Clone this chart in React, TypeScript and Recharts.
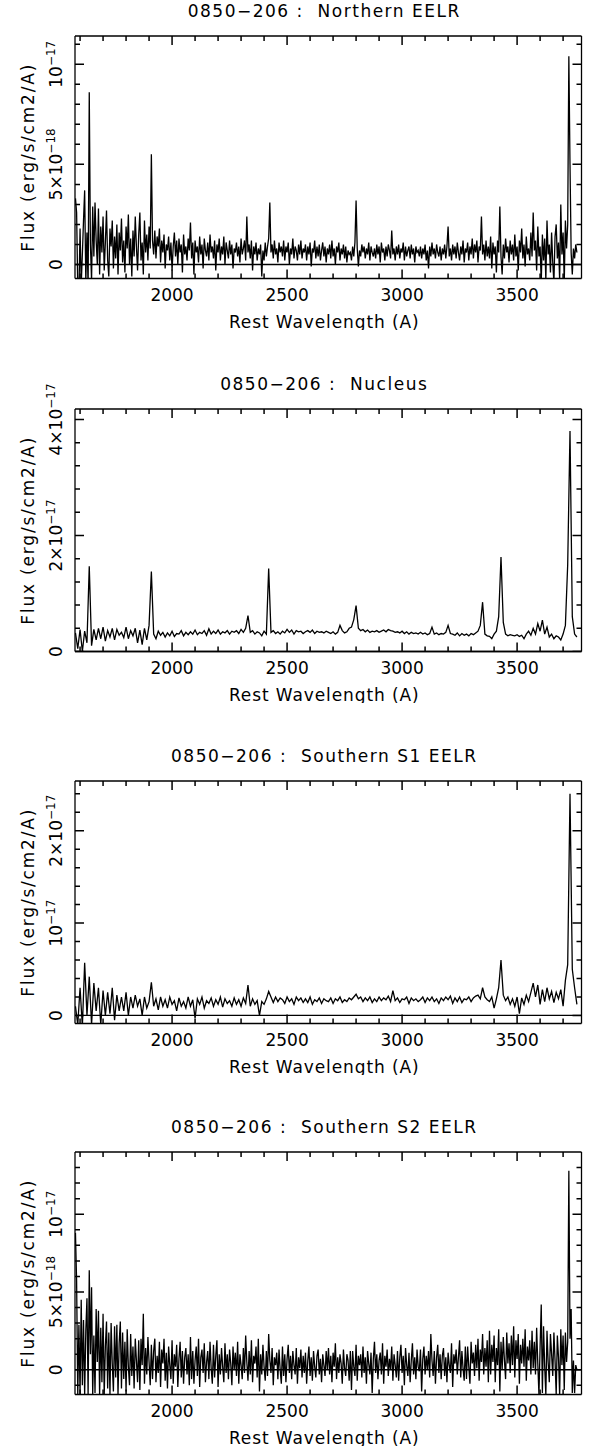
import { LineChart, Line, XAxis, YAxis, ReferenceLine } from "recharts";

// spectra sampled on regular grids starting at 1580 A
const WAVE_START = 1580;
const FINE_STEP = 5;
const COARSE_STEP = 10;

// Northern EELR, 5 A grid, flux in 1e-18 erg/s/cm2/A
const northernFlux = [
  3.3, 2.6, -1.2, -1.5, 1.8, -1.0, 0.5, 2.2, 3.7, -0.9, 1.6, -1.2, 8.6, 1.0, -0.8, 2.9, 0.4, 3.1, 1.2, 0.0,
  2.8, -0.5, 1.9, 0.6, 2.4, -0.3, 1.1, 2.7, 0.2, -0.6, 1.8, 0.9, 2.2, -0.2, 1.4, 0.3, 2.0, -0.5, 1.6, 0.7,
  2.3, 0.1, 1.2, -0.4, 1.9, 0.8, 2.5, 0.0, 1.3, -0.6, 1.7, 0.4, 2.4, 0.9, -0.3, 1.5, 2.6, 0.2, 1.1, -0.5,
  2.2, 0.6, 1.5, 0.2, 1.9, 0.8, 5.5, 1.2, 0.5, 1.7, 0.3, 1.4, 0.9, 1.8, 0.1, 1.2, 0.6, 1.5, -0.2, 1.0,
  0.7, 1.4, 0.2, 1.1, -0.3, 0.9, 1.6, 0.4, 1.2, 0.0, 1.3, 0.6, 1.0, -0.4, 1.5, 0.5, 0.9, 0.2, 1.3, 0.7,
  2.1, 0.3, 1.1, -0.5, 1.2, 0.6, 0.9, 0.1, 1.4, 0.5, 1.0, -0.2, 1.3, 0.7, 0.4, 1.1, 0.2, 1.5, 0.6, 0.9,
  0.3, 1.2, -0.3, 1.0, 0.6, 1.3, 0.2, 0.9, 0.5, 1.4, 0.0, 1.1, 0.7, 0.3, 1.2, 0.5, 1.0, -0.2, 0.8, 0.6,
  1.1, 0.4, 0.9, 0.1, 1.3, 0.5, 0.8, 1.2, 0.2, 2.4, 0.6, 1.0, 0.3, 1.2, -0.3, 0.9, 0.5, 1.1, 0.2, 0.8,
  0.5, 1.0, -0.6, 0.7, 0.2, 1.1, 0.4, 0.9, 1.3, 3.1, 0.6, 1.0, 0.3, 1.2, 0.5, 0.8, 0.1, 1.1, 0.6, 0.9,
  0.4, 1.2, 0.2, 0.9, 0.6, 1.1, 0.0, 0.8, 0.5, 1.3, 0.3, 0.9, 0.7, 0.2, 1.0, 0.5, 1.2, 0.3, 0.8, 0.6,
  1.0, 0.2, 0.9, 0.5, 1.1, -0.1, 0.8, 0.6, 1.2, 0.3, 0.9, 0.4, 1.0, 0.2, 0.7, 1.1, 0.4, 0.9, 0.1, 0.8,
  0.5, 1.0, 0.3, 1.2, 0.4, 0.8, 0.0, 0.9, 0.6, 1.1, 0.2, 0.8, 0.5, 1.0, 0.3, 0.9, 0.1, 0.7, 0.5, 0.6,
  0.2, 0.9, 0.4, 1.1, 3.2, 0.8, -0.1, 0.7, 0.4, 1.0, 0.6, 0.9, 0.3, 0.8, 0.5, 1.1, 0.2, 0.9, 0.6, 0.4,
  0.8, 0.3, 1.0, 0.5, 0.9, 0.1, 1.1, 0.6, 0.8, 0.2, 0.9, 0.4, 1.0, 0.7, 0.3, 1.7, 0.5, 0.8, 0.2, 0.9,
  0.5, 1.0, 0.3, 0.8, 0.6, 1.1, 0.2, 0.9, 0.4, 0.7, 0.9, 0.3, 1.0, 0.5, 0.8, 0.1, 0.9, 0.6, 0.7, 0.4,
  0.9, 0.3, 0.8, 0.5, 1.0, 0.2, 0.7, -0.2, 0.9, 0.4, 1.1, 0.5, 0.8, 0.3, 1.0, 0.6, 0.4, 0.9, 0.2, 0.8,
  0.5, 1.0, 0.3, 0.9, 1.9, 0.4, 0.8, 0.2, 1.0, 0.5, 0.9, 0.3, 1.1, 0.6, 0.2, 0.9, 0.5, 1.2, 0.1, 0.8,
  0.6, 1.1, 0.2, 0.9, 0.5, 1.3, 0.3, 1.0, 0.6, 1.2, 0.1, 0.9, 0.7, 2.4, 0.5, 1.0, 0.2, 1.2, 0.4, 0.9,
  0.3, 1.4, -0.2, 1.1, 0.5, 0.9, -0.4, 1.2, 0.6, 2.9, 0.4, -0.5, 1.0, 0.3, 1.3, 0.6, 0.9, 0.1, 1.2, 0.5,
  1.0, 0.2, 1.5, 0.4, 0.9, -0.3, 1.2, 0.6, 1.8, 0.3, 1.0, -0.1, 1.4, 0.5, 0.8, 0.2, 1.6, 0.4, 2.6, 0.7,
  1.2, -0.3, 1.9, 0.4, 0.9, -0.9, 1.5, 0.2, 1.3, -0.8, 2.2, 0.5, 1.0, -0.4, 1.6, 0.1, -0.9, 1.4, 2.0, 0.3,
  1.1, -0.8, 3.0, 0.5, 1.6, -0.9, 2.2, 0.8, 2.0, 10.4, 5.0, 0.6, -0.5, 0.8, 0.3, 1.0, 0.6,
];

// Nucleus, 10 A grid, flux in 1e-17
const nucleusFlux = [
  0.32, 0.05, 0.38, 0.0, 0.35, 0.15, 1.47, 0.1, 0.38, 0.2,
  0.4, 0.22, 0.42, 0.18, 0.36, 0.25, 0.4, 0.2, 0.38, 0.28,
  0.33, 0.24, 0.42, 0.22, 0.36, 0.27, 0.4, 0.15, 0.37, 0.12,
  0.4, 0.2, 0.45, 1.38, 0.3, 0.22, 0.35, 0.28, 0.33, 0.25,
  0.32, 0.27, 0.35, 0.26, 0.31, 0.3, 0.36, 0.27, 0.33, 0.29,
  0.34, 0.3, 0.37, 0.29, 0.33, 0.31, 0.36, 0.28, 0.39, 0.3,
  0.35, 0.31, 0.37, 0.3, 0.34, 0.32, 0.36, 0.3, 0.35, 0.33,
  0.36, 0.31, 0.38, 0.33, 0.4, 0.62, 0.33, 0.36, 0.3, 0.34,
  0.32, 0.27, 0.35, 0.3, 1.43, 0.33, 0.36, 0.31, 0.34, 0.3,
  0.35, 0.32, 0.38, 0.33, 0.37, 0.3, 0.36, 0.34, 0.35, 0.31,
  0.34, 0.36, 0.33, 0.37, 0.31, 0.35, 0.33, 0.34, 0.32, 0.35,
  0.33, 0.31, 0.34, 0.3, 0.33, 0.45, 0.36, 0.32, 0.34, 0.4,
  0.42, 0.55, 0.79, 0.4, 0.36, 0.38, 0.34, 0.37, 0.33, 0.35,
  0.34, 0.36, 0.33, 0.35, 0.37, 0.34, 0.38, 0.36, 0.35, 0.33,
  0.34, 0.32, 0.35, 0.31, 0.34, 0.3, 0.33, 0.31, 0.32, 0.3,
  0.33, 0.3, 0.32, 0.29, 0.31, 0.42, 0.3, 0.32, 0.29, 0.31,
  0.3, 0.33, 0.45, 0.31, 0.3, 0.28, 0.32, 0.27, 0.31, 0.28,
  0.3, 0.27, 0.31, 0.29, 0.32, 0.35, 0.45, 0.85, 0.3, 0.27,
  0.26, 0.22, 0.3, 0.35, 0.6, 1.63, 0.5, 0.3, 0.27, 0.29,
  0.28, 0.27, 0.29, 0.26, 0.28, 0.22, 0.3, 0.35, 0.28, 0.4,
  0.3, 0.48, 0.35, 0.54, 0.3, 0.42, 0.25, 0.3, 0.22, 0.27,
  0.25, 0.2, 0.3, 0.45, 1.5, 3.8, 0.6, 0.3, 0.25,
];

// Southern S1, 10 A grid, flux in 1e-17
const southS1Flux = [
  0.1, -0.1, 0.3, -0.12, 0.57, 0.0, 0.42, -0.1, 0.35, 0.05,
  0.3, -0.1, 0.27, 0.0, 0.25, 0.02, 0.3, -0.05, 0.22, 0.05,
  0.2, 0.05, 0.25, 0.0, 0.2, 0.08, 0.22, 0.1, 0.18, 0.0,
  0.2, 0.08, 0.15, 0.36, 0.1, 0.18, 0.06, 0.2, 0.1, 0.17,
  0.08, 0.2, 0.12, 0.16, 0.05, 0.19, 0.1, 0.15, 0.08, 0.2,
  0.1, 0.17, -0.03, 0.18, 0.12, 0.2, 0.08, 0.16, 0.13, 0.19,
  0.1, 0.17, 0.12, 0.2, 0.09, 0.18, 0.13, 0.16, 0.1, 0.19,
  0.12, 0.17, 0.1, 0.19, 0.13, 0.33, 0.1, 0.18, 0.12, 0.16,
  0.0, 0.15, 0.12, 0.18, 0.26, 0.2, 0.14, 0.2, 0.15, 0.19,
  0.17, 0.13, 0.2, 0.15, 0.18, 0.12, 0.2, 0.16, 0.19, 0.14,
  0.18, 0.14, 0.2, 0.12, 0.17, 0.15, 0.19, 0.13, 0.18, 0.16,
  0.15, 0.19, 0.13, 0.18, 0.16, 0.2, 0.14, 0.17, 0.15, 0.19,
  0.17, 0.2, 0.23, 0.18, 0.2, 0.15, 0.19, 0.16, 0.2, 0.14,
  0.18, 0.15, 0.2, 0.16, 0.19, 0.17, 0.21, 0.15, 0.27, 0.16,
  0.19, 0.14, 0.18, 0.17, 0.2, 0.13, 0.19, 0.16, 0.18, 0.15,
  0.17, 0.2, 0.14, 0.19, 0.16, 0.2, 0.15, 0.18, 0.13, 0.19,
  0.16, 0.2, 0.17, 0.21, 0.13, 0.19, 0.15, 0.2, 0.14, 0.18,
  0.17, 0.2, 0.15, 0.19, 0.21, 0.22, 0.18, 0.3, 0.2, 0.17,
  0.15, 0.2, 0.08, 0.18, 0.3, 0.6, 0.22, 0.16, 0.2, 0.12,
  0.18, 0.1, 0.2, 0.02, 0.19, 0.12, 0.22, 0.15, 0.25, 0.35,
  0.2, 0.33, 0.12, 0.28, 0.15, 0.3, 0.18, 0.26, 0.14, 0.25,
  0.18, 0.28, 0.1, 0.38, 0.55, 2.4, 0.5, 0.3, 0.12,
];

// Southern S2, 5 A grid, flux in 1e-18
const southS2Flux = [
  8.8, 5.7, -1.6, 2.9, -1.6, 4.5, -1.0, 3.2, -1.6, 2.5, 4.6, -1.6, 6.4, 1.0, 5.3, -1.6, 2.2, -1.5, 3.9, 0.5,
  3.8, -1.6, 2.7, -0.8, 3.6, -1.6, 1.5, 3.1, -1.2, 2.4, -1.6, 3.0, 0.4, -1.4, 2.8, -0.5, 2.9, -1.6, 1.7, 3.1,
  -1.2, 2.4, -0.6, 1.8, -1.4, 2.6, 0.2, -1.0, 2.3, -0.4, 1.5, -1.2, 2.0, 0.6, -0.8, 1.9, -1.3, 2.0, 0.3, 3.6,
  -0.9, 1.4, -0.3, 2.1, 0.5, -1.0, 1.6, -0.6, 1.2, 2.0, -0.8, 0.9, -0.2, 1.8, -1.1, 1.3, 0.4, 2.0, -0.7, 1.1,
  -1.2, 1.5, 0.3, -0.6, 1.9, -0.9, 1.0, 0.2, 1.6, -1.1, 0.7, 1.8, -0.5, 1.2, -0.9, 0.8, 1.4, -0.3, 1.0, -1.0,
  2.1, -0.6, 1.2, -0.9, 0.6, 1.5, -0.4, 2.0, -1.1, 0.8, 1.3, -0.2, 1.7, -0.8, 0.5, 1.2, -0.6, 1.8, 0.1, -0.9,
  1.6, -0.5, 0.9, 1.9, -1.1, 1.0, -0.3, 1.4, 0.2, -0.8, 1.7, -0.2, 1.0, -0.6, 1.3, 0.4, -1.0, 1.5, 0.0, 1.1,
  -0.4, 1.8, -0.9, 1.0, 0.3, -0.6, 1.4, -0.2, 2.2, 0.5, -0.7, 1.2, -0.3, 1.9, -0.8, 0.9, 0.4, 1.5, -0.5, 2.0,
  -1.4, 1.0, -0.3, 1.6, 0.2, -0.7, 1.2, -0.4, 2.3, 0.6, -0.2, 1.4, -1.0, 0.8, 0.3, 1.1, -0.6, 1.3, 0.0, -0.9,
  1.5, -0.4, 1.0, -0.8, 0.7, 1.6, -0.2, 0.9, -0.6, 1.2, 0.3, -0.3, 1.4, -0.9, 0.8, 0.1, 1.3, -0.5, 0.9, -0.2,
  1.1, -0.9, 0.6, 1.5, -0.4, 0.8, -0.7, 1.2, 0.2, -0.5, 0.9, 1.3, -0.3, 0.7, -0.8, 1.0, 0.3, -0.4, 1.2, 0.0,
  1.4, -0.3, 0.9, -0.8, 1.1, 0.2, 1.7, -0.6, 0.8, -0.2, 1.0, 0.4, -0.9, 1.3, 0.1, -0.4, 1.0, 0.6, -0.7, 1.2,
  -1.3, 1.2, 0.2, -0.4, 1.6, -0.7, 0.9, 0.3, 1.0, -0.5, 1.5, -0.2, 0.8, -0.9, 1.2, 0.4, -0.3, 1.1, -1.5, 0.7,
  1.8, -0.2, 1.0, -0.6, 0.6, 1.1, -0.3, 1.7, -0.9, 0.9, 0.2, 1.3, -0.4, 0.7, 0.0, 1.5, -0.7, 1.0, 0.3, -0.5,
  1.2, -0.7, 0.8, 1.6, -0.2, 0.9, -1.0, 1.4, 0.3, -0.4, 1.1, -0.8, 0.6, 1.7, -0.3, 0.8, -0.6, 1.3, 0.2, -0.1,
  1.3, -1.4, 0.7, 1.5, -0.3, 0.9, 0.0, 1.2, -0.5, 2.3, 0.6, -0.4, 1.2, -0.9, 0.8, 1.6, -0.2, 1.0, -0.6, 0.9,
  1.4, -0.4, 0.8, -0.8, 1.1, 0.3, -0.2, 1.7, -1.1, 1.0, 0.4, 1.3, -0.3, 0.8, 1.9, -0.5, 1.2, 0.1, -0.7, 1.5,
  -0.6, 1.5, 0.2, -0.9, 1.8, 0.4, 1.1, -0.4, 1.6, 0.1, 2.0, -0.7, 1.3, 0.5, 2.3, -0.3, 1.4, 0.2, 1.9, -0.8,
  2.5, -0.3, 1.6, 0.5, 2.2, -0.8, 1.4, 0.3, 2.6, -1.4, 1.8, 0.0, 2.1, 0.6, -0.6, 2.4, 0.4, 1.7, -0.2, 2.2,
  0.3, 2.8, -0.5, 1.9, 0.7, 2.3, -0.9, 1.6, 0.4, 2.0, 0.2, 2.6, -0.7, 1.5, 0.6, 1.9, -0.3, 2.5, 0.1, 1.8,
  -0.3, 2.7, 0.4, -1.6, 1.5, 4.2, -1.5, 2.8, 0.2, -1.6, 2.5, 0.5, -0.8, 2.3, 1.0, -0.4, 2.4, 0.6, -1.6, 2.2,
  0.8, -1.6, 2.6, 0.3, 2.2, -1.3, 2.4, 0.5, 1.8, 12.8, 2.0, 3.9, -1.5, 0.6, -1.5, 0.3, 0.0,
];

const xDomain = [1578, 3780];
const xMajorTicks = [2000, 2500, 3000, 3500];
const xMinorTicks = [
  1600, 1700, 1800, 1900, 2100, 2200, 2300, 2400, 2600,
  2700, 2800, 2900, 3100, 3200, 3300, 3400, 3600, 3700,
];

const northernYTicks = [0, 5, 10];
const northernYMinor = [1, 2, 3, 4, 6, 7, 8, 9, 11];
const northernYLabels = [["0", ""], ["5×10", "−18"], ["10", "−17"]];

const nucleusYTicks = [0, 2, 4];
const nucleusYMinor = [0.4, 0.8, 1.2, 1.6, 2.4, 2.8, 3.2, 3.6];
const nucleusYLabels = [["0", ""], ["2×10", "−17"], ["4×10", "−17"]];

const s1YTicks = [0, 1, 2];
const s1YMinor = [0.2, 0.4, 0.6, 0.8, 1.2, 1.4, 1.6, 1.8, 2.2, 2.4];
const s1YLabels = [["0", ""], ["10", "−17"], ["2×10", "−17"]];

const s2YTicks = [0, 5, 10];
const s2YMinor = [-1, 1, 2, 3, 4, 6, 7, 8, 9, 11, 12, 13];
const s2YLabels = [["0", ""], ["5×10", "−18"], ["10", "−17"]];

const FONT = "'DejaVu Sans', sans-serif";
const INK = "#000";
const CHART_W = 600;
const CHART_H = 330;
const MARGIN = { top: 36, right: 18.5, bottom: 51.5, left: 75 };
const PLOT_W = CHART_W - MARGIN.left - MARGIN.right;
const PLOT_H = CHART_H - MARGIN.top - MARGIN.bottom;
const PLOT_TOP = MARGIN.top;
const PLOT_BOTTOM = MARGIN.top + PLOT_H;
const PLOT_LEFT = MARGIN.left;
const MAJOR_LEN = 9;
const MINOR_LEN = 5;
// axes need a non-zero size to be drawn
const THIN = 0.01;

const toPoints = (flux: number[], step: number) =>
  flux.map((f, i) => ({ wave: WAVE_START + i * step, flux: f }));

type TickPt = { wave: number; mark: number | null };

// inward tick marks as one broken polyline (nulls split the segments)
function buildTickMarks(
  yDomain: number[],
  yTicks: number[],
  yMinor: number[]
): TickPt[] {
  const [x0, x1] = xDomain;
  const [y0, y1] = yDomain;
  const perPxY = (y1 - y0) / PLOT_H;
  const perPxX = (x1 - x0) / PLOT_W;
  const pts: TickPt[] = [];
  const seg = (ax: number, ay: number, bx: number, by: number) => {
    pts.push({ wave: ax, mark: ay }, { wave: bx, mark: by }, { wave: bx, mark: null });
  };
  const xTicks = [
    ...xMajorTicks.map((v) => [v, MAJOR_LEN]),
    ...xMinorTicks.map((v) => [v, MINOR_LEN]),
  ];
  xTicks.forEach(([v, len]) => {
    seg(v, y0, v, y0 + len * perPxY);
    seg(v, y1, v, y1 - len * perPxY);
  });
  const yAll = [
    ...yTicks.map((v) => [v, MAJOR_LEN]),
    ...yMinor.map((v) => [v, MINOR_LEN]),
  ];
  yAll.forEach(([v, len]) => {
    seg(x0, v, x0 + len * perPxX, v);
    seg(x1, v, x1 - len * perPxX, v);
  });
  return pts;
}

const XLabelTick = (props: any) => (
  <text
    x={props.x}
    y={PLOT_BOTTOM + 22.7}
    textAnchor="middle"
    fontSize={17}
    fontFamily={FONT}
    fill={INK}
  >
    {props.payload.value}
  </text>
);

function makeYLabelTick(ticks: number[], labels: string[][]) {
  return (props: any) => {
    const i = ticks.indexOf(props.payload.value);
    if (i < 0) return <g />;
    const [base, exp] = labels[i];
    const x = PLOT_LEFT - 13;
    const y = props.y;
    return (
      <text
        x={x}
        y={y}
        transform={`rotate(-90 ${x} ${y})`}
        textAnchor="middle"
        fontSize={17}
        fontFamily={FONT}
        fill={INK}
      >
        {base}
        {exp && (
          <tspan dy={-7} fontSize={12}>
            {exp}
          </tspan>
        )}
      </text>
    );
  };
}

const textStyle = { whiteSpace: "pre" as const };

type PanelProps = {
  top: number;
  title: string;
  flux: number[];
  step: number;
  yDomain: number[];
  yTicks: number[];
  yMinor: number[];
  yLabels: string[][];
};

function Panel({ top, title, flux, step, yDomain, yTicks, yMinor, yLabels }: PanelProps) {
  const data = toPoints(flux, step);
  const tickMarks = buildTickMarks(yDomain, yTicks, yMinor);
  const axisLine = { stroke: INK, strokeWidth: 1.3 };
  const cx = PLOT_LEFT + PLOT_W / 2 - 4;

  const titleLabel = () => (
    <text
      x={cx}
      y={PLOT_TOP - 19}
      textAnchor="middle"
      fontSize={17}
      letterSpacing={1.5}
      fontFamily={FONT}
      fill={INK}
      style={textStyle}
    >
      {title}
    </text>
  );
  const xLabel = () => (
    <text
      x={cx}
      y={PLOT_BOTTOM + 49}
      textAnchor="middle"
      fontSize={17}
      letterSpacing={0.9}
      fontFamily={FONT}
      fill={INK}
    >
      Rest Wavelength (A)
    </text>
  );
  const yLabel = () => {
    const x = PLOT_LEFT - 41;
    const y = PLOT_TOP + PLOT_H / 2;
    return (
      <text
        x={x}
        y={y}
        transform={`rotate(-90 ${x} ${y})`}
        textAnchor="middle"
        fontSize={17}
        letterSpacing={1.8}
        fontFamily={FONT}
        fill={INK}
      >
        Flux (erg/s/cm2/A)
      </text>
    );
  };

  const xCommon = {
    dataKey: "wave",
    type: "number" as const,
    domain: xDomain,
    allowDataOverflow: true,
    interval: 0,
    height: THIN,
    mirror: true,
    tickLine: false,
    axisLine,
  };
  const yCommon = {
    type: "number" as const,
    domain: yDomain,
    allowDataOverflow: true,
    interval: 0,
    width: THIN,
    mirror: true,
    tickLine: false,
    axisLine,
  };

  return (
    <div style={{ position: "absolute", left: 0, top }}>
      <LineChart width={CHART_W} height={CHART_H} data={data} margin={MARGIN}>
        <XAxis {...xCommon} xAxisId="b" ticks={xMajorTicks} tick={XLabelTick} label={xLabel} />
        <XAxis {...xCommon} xAxisId="t" orientation="top" ticks={xMajorTicks} tick={false} label={titleLabel} />
        <YAxis
          {...yCommon}
          yAxisId="l"
          ticks={yTicks}
          tick={makeYLabelTick(yTicks, yLabels)}
          label={yLabel}
        />
        <YAxis {...yCommon} yAxisId="r" orientation="right" ticks={yTicks} tick={false} />
        <ReferenceLine xAxisId="b" yAxisId="l" y={0} stroke={INK} strokeWidth={1.3} />
        <Line
          xAxisId="b"
          yAxisId="l"
          data={tickMarks}
          type="linear"
          dataKey="mark"
          stroke={INK}
          strokeWidth={1.5}
          dot={false}
          activeDot={false}
          connectNulls={false}
          isAnimationActive={false}
        />
        <Line
          xAxisId="b"
          yAxisId="l"
          type="linear"
          dataKey="flux"
          stroke={INK}
          strokeWidth={1.3}
          dot={false}
          isAnimationActive={false}
        />
      </LineChart>
    </div>
  );
}

export default function App() {
  return (
    <div
      style={{
        position: "absolute",
        left: 0,
        top: 0,
        width: 600,
        height: 1449,
        background: "#fff",
      }}
    >
      <Panel
        top={0}
        title="0850−206 :  Northern EELR"
        flux={northernFlux}
        step={FINE_STEP}
        yDomain={[-0.7, 11.41]}
        yTicks={northernYTicks}
        yMinor={northernYMinor}
        yLabels={northernYLabels}
      />
      <Panel
        top={373}
        title="0850−206 :  Nucleus"
        flux={nucleusFlux}
        step={COARSE_STEP}
        yDomain={[0, 4.18]}
        yTicks={nucleusYTicks}
        yMinor={nucleusYMinor}
        yLabels={nucleusYLabels}
      />
      <Panel
        top={744.5}
        title="0850−206 :  Southern S1 EELR"
        flux={southS1Flux}
        step={COARSE_STEP}
        yDomain={[-0.087, 2.538]}
        yTicks={s1YTicks}
        yMinor={s1YMinor}
        yLabels={s1YLabels}
      />
      <Panel
        top={1115.5}
        title="0850−206 :  Southern S2 EELR"
        flux={southS2Flux}
        step={FINE_STEP}
        yDomain={[-1.59, 14.0]}
        yTicks={s2YTicks}
        yMinor={s2YMinor}
        yLabels={s2YLabels}
      />
    </div>
  );
}
